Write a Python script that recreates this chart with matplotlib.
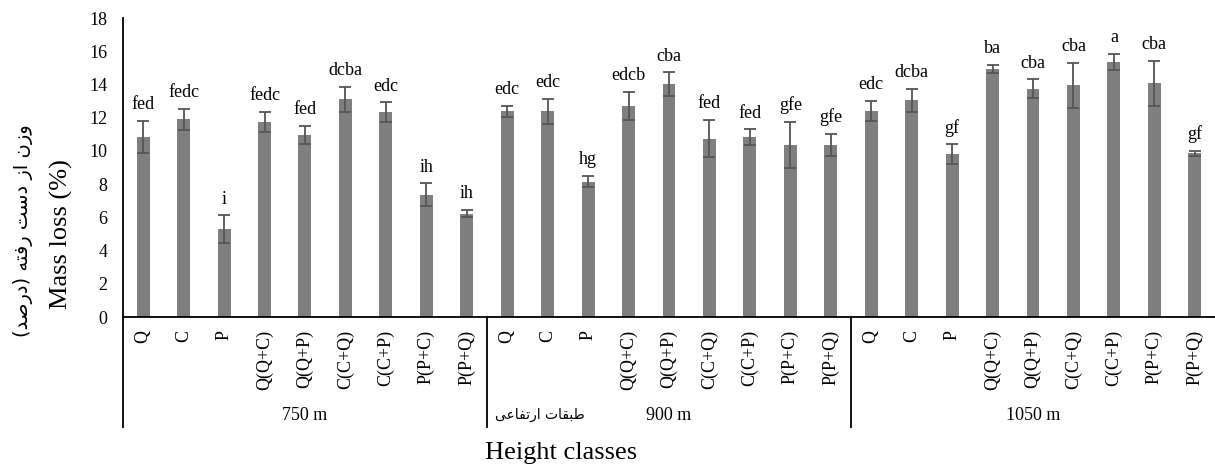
import matplotlib
matplotlib.use("Agg")
import matplotlib.pyplot as plt
import matplotlib.transforms as mtransforms

plt.rcParams['font.family'] = ['Liberation Serif', 'DejaVu Sans']

treatments = ['Q', 'C', 'P', 'Q(Q+C)', 'Q(Q+P)', 'C(C+Q)', 'C(C+P)', 'P(P+C)', 'P(P+Q)']
heights = ['750 m', '900 m', '1050 m']

mass_750 = [10.85, 11.9, 5.28, 11.74, 10.96, 13.1, 12.32, 7.36, 6.22]
mass_900 = [12.38, 12.38, 8.15, 12.72, 14.01, 10.74, 10.84, 10.36, 10.38]
mass_1050 = [12.42, 13.06, 9.81, 14.93, 13.75, 13.95, 15.37, 14.07, 9.85]

err_750 = [0.97, 0.64, 0.84, 0.6, 0.56, 0.74, 0.6, 0.69, 0.22]
err_900 = [0.32, 0.74, 0.34, 0.83, 0.72, 1.12, 0.46, 1.4, 0.66]
err_1050 = [0.6, 0.69, 0.58, 0.24, 0.56, 1.34, 0.48, 1.34, 0.14]

letters_750 = ['fed', 'fedc', 'i', 'fedc', 'fed', 'dcba', 'edc', 'ih', 'ih']
letters_900 = ['edc', 'edc', 'hg', 'edcb', 'cba', 'fed', 'fed', 'gfe', 'gfe']
letters_1050 = ['edc', 'dcba', 'gf', 'ba', 'cba', 'cba', 'a', 'cba', 'gf']

# Persian labels, written as shaped glyphs in visual order
ylabel_fa = ('(\uFEAA\uFEBB\uFEAD\uFEA9) \uFEEA\uFE98\uFED3\uFEAD '
             '\uFE96\uFEB3\uFEA9 \uFEAF\uFE8D \uFEE5\uFEAF\uFEED')
xlabel_fa = '\uFBFD\uFECB\uFE8E\uFED4\uFE97\uFEAD\uFE8D \uFE95\uFE8E\uFED8\uFE92\uFEC3'

values = mass_750 + mass_900 + mass_1050
errors = err_750 + err_900 + err_1050
letters = letters_750 + letters_900 + letters_1050
labels = treatments * len(heights)
x = list(range(len(values)))

fig = plt.figure(figsize=(12.15, 4.66), dpi=100)
ax = fig.add_axes([0.1012, 0.3197, 0.8988, 0.6416])

ax.bar(x, values, width=0.32, color='#7f7f7f', zorder=2)
ax.errorbar(x, values, yerr=errors, fmt='none', ecolor='#555555',
            elinewidth=1.3, capsize=4.3, capthick=1.3, zorder=3)

for xi, v, e, t in zip(x, values, errors, letters):
    ax.annotate(t, (xi, v + e), xytext=(0, 8.5), textcoords='offset points',
                ha='center', va='baseline', fontsize=13)

ax.set_xlim(-0.5, len(values) - 0.5)
ax.set_ylim(0, 18)
ax.set_yticks(range(0, 19, 2))
ax.set_xticks(x)
ax.set_xticklabels(labels, rotation=90, fontsize=13)
ax.tick_params(axis='y', length=0, pad=11, labelsize=13)
ax.tick_params(axis='x', length=0, pad=9)

for s in ['top', 'right']:
    ax.spines[s].set_visible(False)
for s in ['left', 'bottom']:
    ax.spines[s].set_linewidth(1.3)

trans = mtransforms.blended_transform_factory(ax.transData, ax.transAxes)
n = len(treatments)
for i in range(len(heights)):
    ax.plot([i * n - 0.5, i * n - 0.5], [0, -0.368], color='black', lw=1.3,
            transform=trans, clip_on=False)
    ax.text(i * n + (n - 1) / 2, -0.331, heights[i], transform=trans,
            ha='center', va='center', fontsize=13)

ax.text(9.8, -0.327, xlabel_fa, transform=trans, ha='center', va='center',
        fontsize=10, family='DejaVu Sans')
ax.text(0.401, -0.455, 'Height classes', transform=ax.transAxes,
        ha='center', va='center', fontsize=19)
ax.text(-0.0559, 0.278, 'Mass loss (%)', transform=ax.transAxes, rotation=90,
        ha='center', va='center', fontsize=19)
ax.text(-0.0915, 0.288, ylabel_fa, transform=ax.transAxes, rotation=90,
        ha='center', va='center', fontsize=14, family='DejaVu Sans')

fig.savefig('out.png', dpi=100)
